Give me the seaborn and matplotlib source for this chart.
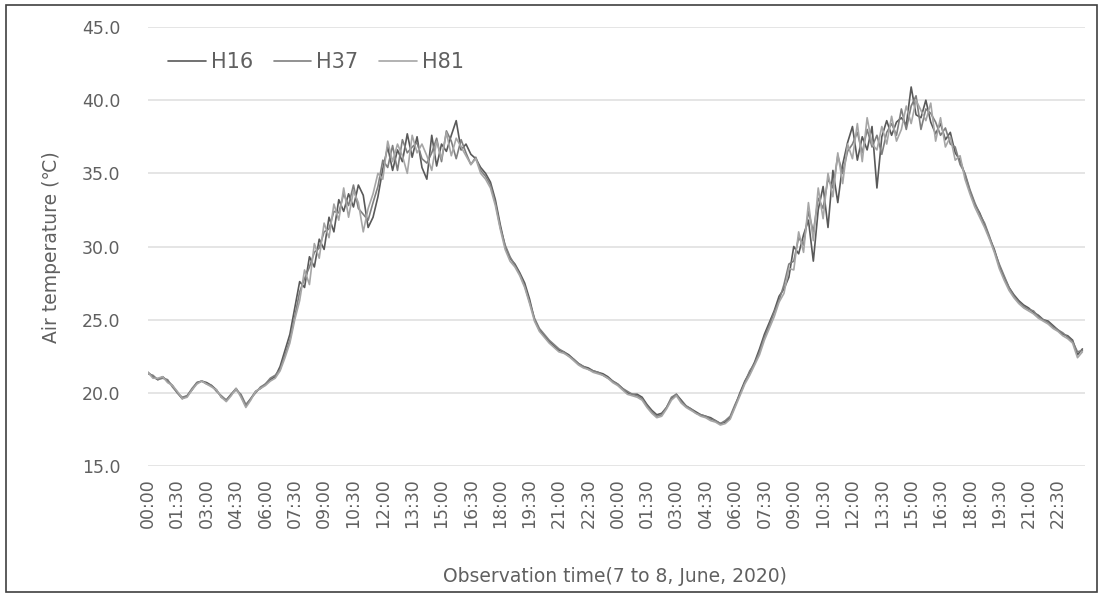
import numpy as np
import pandas as pd
import matplotlib
matplotlib.use("Agg")
import matplotlib.pyplot as plt
import seaborn as sns

# readings every 15 min, 7 to 8 June 2020 (one row = 3 hours)
step_min = 15
H16 = [21.4, 21.1, 20.9, 21.1, 20.8, 20.5, 20.0, 19.6, 19.8, 20.2, 20.7, 20.8,
       20.7, 20.5, 20.2, 19.7, 19.5, 19.9, 20.3, 19.8, 19.1, 19.6, 20.1, 20.3,
       20.6, 20.9, 21.1, 21.8, 22.9, 24.0, 25.8, 27.6, 27.2, 29.3, 28.6, 30.5,
       29.8, 32.0, 31.0, 33.2, 32.4, 33.6, 32.7, 34.2, 33.5, 31.3, 32.0, 33.4,
       35.3, 36.8, 35.2, 36.6, 35.8, 37.7, 36.1, 37.5, 35.4, 34.6, 37.6, 35.5,
       37.0, 36.5, 37.6, 38.6, 36.6, 37.0, 36.3, 36.0, 35.4, 35.0, 34.4, 33.2,
       31.5, 30.0, 29.2, 28.8, 28.2, 27.5, 26.4, 25.0, 24.3, 23.9, 23.5, 23.2,
       22.9, 22.8, 22.6, 22.3, 22.0, 21.8, 21.7, 21.5, 21.4, 21.3, 21.1, 20.8,
       20.6, 20.3, 20.0, 19.9, 19.9, 19.7, 19.2, 18.8, 18.5, 18.6, 19.0, 19.6,
       19.9, 19.5, 19.1, 18.9, 18.7, 18.5, 18.4, 18.3, 18.1, 17.9, 18.0, 18.3,
       19.1, 20.0, 20.8, 21.4, 22.1, 23.0, 24.0, 24.8, 25.6, 26.6, 27.1, 27.9,
       30.0, 29.5, 30.8, 31.8, 29.0, 32.5, 34.1, 31.3, 35.2, 33.0, 35.6, 37.1,
       38.2, 35.9, 37.5, 36.6, 38.2, 34.0, 37.5, 38.6, 37.6, 38.5, 38.8, 38.3,
       40.9, 39.0, 38.8, 40.0, 38.5, 37.7, 38.4, 37.3, 37.8, 36.4, 35.9, 34.9,
       33.8, 32.9, 32.3, 31.5, 30.6, 29.8, 28.7, 27.9, 27.2, 26.7, 26.3, 26.0,
       25.8, 25.5, 25.3, 25.0, 24.9, 24.6, 24.3, 24.0, 23.9, 23.6, 22.6, 23.0]
H37 = [21.3, 21.2, 20.9, 21.0, 20.9, 20.4, 20.0, 19.7, 19.8, 20.3, 20.7, 20.8,
       20.6, 20.5, 20.1, 19.8, 19.5, 19.9, 20.2, 19.9, 19.2, 19.6, 20.0, 20.4,
       20.6, 21.0, 21.2, 21.6, 22.6, 23.6, 25.2, 26.9, 27.8, 28.6, 29.6, 29.9,
       31.0, 31.2, 32.4, 32.3, 33.6, 32.8, 34.2, 32.6, 32.2, 31.8, 33.0, 34.1,
       35.9, 35.4, 36.9, 35.2, 37.3, 36.4, 36.8, 37.1, 36.0, 35.7, 36.4, 37.4,
       35.8, 37.9, 37.2, 36.0, 37.3, 36.4, 35.6, 36.1, 35.2, 34.8, 34.2, 33.0,
       31.3, 30.1, 29.3, 28.7, 28.1, 27.3, 26.2, 25.1, 24.4, 24.0, 23.6, 23.3,
       23.0, 22.8, 22.5, 22.3, 22.0, 21.8, 21.6, 21.5, 21.4, 21.2, 21.0, 20.8,
       20.6, 20.3, 20.1, 19.9, 19.8, 19.6, 19.1, 18.7, 18.4, 18.5, 19.0, 19.7,
       19.9, 19.4, 19.1, 18.9, 18.6, 18.5, 18.4, 18.2, 18.1, 17.9, 18.1, 18.4,
       19.2, 19.9, 20.7, 21.5, 22.0, 22.8, 23.8, 24.6, 25.5, 26.3, 27.4, 28.8,
       29.0, 30.6, 30.1, 32.4, 31.0, 33.3, 32.6, 34.6, 34.0, 36.2, 35.0, 36.5,
       37.0, 37.8, 36.4, 38.0, 36.8, 37.6, 36.3, 37.8, 38.4, 37.6, 39.4, 38.0,
       39.6, 40.3, 38.0, 39.4, 39.1, 38.5, 37.6, 38.1, 37.0, 36.8, 35.6, 35.0,
       33.9, 33.0, 32.2, 31.6, 30.7, 29.7, 28.8, 28.0, 27.2, 26.6, 26.2, 25.9,
       25.7, 25.6, 25.2, 25.0, 24.8, 24.5, 24.3, 24.1, 23.8, 23.5, 22.8, 22.9]
H81 = [21.4, 21.0, 21.0, 21.1, 20.7, 20.5, 20.1, 19.6, 19.7, 20.2, 20.6, 20.8,
       20.6, 20.4, 20.2, 19.7, 19.4, 19.8, 20.3, 19.7, 19.0, 19.5, 20.1, 20.3,
       20.5, 20.8, 21.0, 21.5, 22.4, 23.4, 25.0, 26.3, 28.4, 27.4, 30.2, 29.2,
       31.6, 30.6, 32.9, 31.8, 34.0, 32.0, 33.8, 33.0, 31.0, 32.6, 33.6, 35.0,
       34.6, 37.2, 35.8, 37.0, 36.2, 35.0, 37.6, 36.4, 37.0, 36.2, 35.2, 37.2,
       36.0, 37.8, 36.2, 37.4, 36.8, 36.2, 35.6, 36.0, 35.0, 34.6, 34.0, 32.8,
       31.2, 29.8, 29.0, 28.6, 28.0, 27.2, 26.1, 24.9, 24.2, 23.8, 23.4, 23.1,
       22.8, 22.7, 22.5, 22.2, 21.9, 21.7, 21.6, 21.4, 21.3, 21.2, 21.0, 20.7,
       20.5, 20.2, 19.9, 19.8, 19.7, 19.5, 19.0, 18.6, 18.3, 18.4, 18.9, 19.5,
       19.8, 19.3, 19.0, 18.8, 18.6, 18.4, 18.3, 18.1, 18.0, 17.8, 17.9, 18.2,
       19.0, 19.8, 20.6, 21.2, 21.9, 22.6, 23.6, 24.4, 25.2, 26.2, 26.8, 28.5,
       28.4, 31.0, 29.6, 33.0, 30.4, 34.0, 31.9, 35.0, 33.4, 36.4, 34.3, 37.0,
       36.0, 38.4, 35.8, 38.8, 37.0, 36.6, 38.2, 37.0, 38.9, 37.2, 38.0, 39.6,
       38.4, 40.0, 39.3, 38.6, 39.8, 37.2, 38.8, 36.8, 37.5, 35.9, 36.2, 34.6,
       33.6, 32.7, 32.0, 31.3, 30.5, 29.6, 28.5, 27.7, 27.0, 26.5, 26.1, 25.8,
       25.6, 25.4, 25.1, 24.9, 24.7, 24.4, 24.2, 23.9, 23.7, 23.4, 22.4, 22.8]

day_ticks = ["00:00", "01:30", "03:00", "04:30", "06:00", "07:30", "09:00", "10:30",
             "12:00", "13:30", "15:00", "16:30", "18:00", "19:30", "21:00", "22:30"]
tick_labels = day_ticks * 2
tick_step_min = 90

series = {"H16": H16, "H37": H37, "H81": H81}
frames = []
for name, vals in series.items():
    frames.append(pd.DataFrame({"minute": np.arange(len(vals)) * step_min,
                                "temp": vals, "site": name}))
df = pd.concat(frames, ignore_index=True)

sns.set_style("white")
txt = "#606060"

fig = plt.figure(figsize=(10.99, 5.93), dpi=100)
ax = fig.add_axes([148/1099, 1 - 466/593, 937/1099, 439/593])

sns.lineplot(data=df, x="minute", y="temp", hue="site",
             palette=["#595959", "#7f7f7f", "#a6a6a6"], linewidth=1.2, ax=ax)

ax.set_xlim(0, 2873)
ax.set_ylim(15, 45)
ax.set_yticks(np.arange(15, 46, 5))
ax.set_yticklabels([f"{v:.1f}" for v in np.arange(15, 46, 5)])
ax.set_xticks(np.arange(len(tick_labels)) * tick_step_min)
ax.set_xticklabels(tick_labels, rotation=90)
ax.tick_params(axis="both", length=0, labelsize=12.5, labelcolor=txt)
ax.tick_params(axis="y", pad=20)
ax.tick_params(axis="x", pad=9)
ax.grid(axis="y", color="#e3e3e3", linewidth=1.3)
ax.grid(axis="x", visible=False)
for s in ax.spines.values():
    s.set_visible(False)
ax.set_xlabel("")
ax.set_ylabel("")

fig.text(52/1099, 1 - 247/593, "Air temperature (℃)", rotation=90,
         ha="center", va="center", fontsize=13.5, color=txt)
fig.text(615/1099, 1 - 577/593, "Observation time(7 to 8, June, 2020)",
         ha="center", va="center", fontsize=13.5, color=txt)

leg = ax.legend(loc="center left", bbox_to_anchor=(20/937, 0.92), ncol=3,
                frameon=False, fontsize=15, handlelength=1.8, handletextpad=0.25,
                columnspacing=1.0, borderpad=0, borderaxespad=0)
for t in leg.get_texts():
    t.set_color(txt)

# chart border
fig.patches.append(plt.Rectangle((6/1099, 0.002), 1 - 8/1099, 1 - 6/593,
                                 transform=fig.transFigure, fill=False,
                                 edgecolor="#404040", linewidth=1.2))

fig.savefig("out.png", dpi=100)
